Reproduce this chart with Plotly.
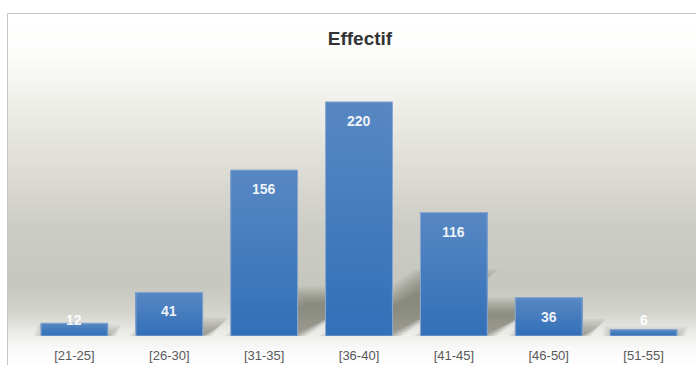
import plotly.graph_objects as go

# ---------------- data ----------------
categories = ["[21-25]", "[26-30]", "[31-35]", "[36-40]", "[41-45]", "[46-50]", "[51-55]"]
effectif = [12, 41, 156, 220, 116, 36, 6]
title_text = "Effectif"

# ---------------- geometry ----------------
W, H = 696, 365
ML, MR, MT, MB = 27, 5, 60, 29
PW = W - ML - MR
PH = H - MT - MB
YMAX = 259.4
px_per_unit = PH / YMAX
n = len(categories)
px_per_cat = PW / n
bar_w = 0.705


def py(ypx):
    return (H - MB - ypx) / PH


def px(xpx):
    return (xpx - ML) / PW


def hex2rgb(h):
    h = h.lstrip("#")
    return tuple(int(h[i:i + 2], 16) for i in (0, 2, 4))


def mix(c0, c1, t):
    a, b = hex2rgb(c0), hex2rgb(c1)
    return "rgb(%d,%d,%d)" % tuple(round(a[i] + (b[i] - a[i]) * t) for i in range(3))


def lerp_color(stops, y):
    for (y0, c0), (y1, c1) in zip(stops, stops[1:]):
        if y0 <= y <= y1:
            t = (y - y0) / (y1 - y0) if y1 > y0 else 0
            return mix(c0, c1, t)
    return stops[-1][1]


# background gradient (styling only)
bg_stops = [(13, "#ffffff"), (50, "#fdfdfc"), (100, "#f0f0eb"), (170, "#dddcd5"),
            (230, "#cbccc4"), (285, "#c6c7bf"), (312, "#d2d3cb"), (334, "#ededea"),
            (350, "#fafafa"), (366, "#ffffff")]

shapes = []
step = 3
y = 14
while y < 366:
    shapes.append(dict(type="rect", xref="paper", yref="paper",
                       x0=px(8), x1=px(705), y0=py(y + step + 0.5), y1=py(y),
                       fillcolor=lerp_color(bg_stops, y + step / 2), line=dict(width=0),
                       layer="below"))
    y += step

# frame
shapes.append(dict(type="rect", xref="paper", yref="paper",
                   x0=px(7.5), x1=px(710), y0=py(380), y1=py(13.5),
                   line=dict(color="#c6c6c6", width=1), fillcolor="rgba(0,0,0,0)",
                   layer="below"))

# soft perspective shadows derived from bar values
for i, v in enumerate(effectif):
    hs = 0.25 * v
    dx = (hs * px_per_unit / 0.6) / px_per_cat
    for e in range(-8, 9, 2):
        ex = e / px_per_cat
        ey = e / px_per_unit
        x0 = i - bar_w / 2 - ex
        x1 = i + bar_w / 2 + ex
        top = max(hs + ey, 0.1)
        path = "M %f,%f L %f,%f L %f,%f L %f,%f Z" % (
            x0, -1, x1, -1, x1 + dx, top, x0 + dx, top)
        shapes.append(dict(type="path", xref="x", yref="y", path=path,
                           fillcolor="rgba(45,45,40,0.058)", line=dict(width=0),
                           layer="below"))

# value labels
annotations = []
for i, v in enumerate(effectif):
    if v * px_per_unit - 19 >= 16:
        yv, ys = v, -19
    else:
        yv, ys = 0, 16
    annotations.append(dict(x=i, y=yv, xref="x", yref="y", yshift=ys, text=str(v),
                            showarrow=False, yanchor="middle", xanchor="center",
                            font=dict(family="Liberation Sans", size=14,
                                      color="rgba(255,255,255,0.93)", weight="bold")))

fig = go.Figure()

# bars drawn as overlapping layers giving a vertical gradient (light top -> darker bottom)
TOP_C, BOT_C = "#5888c3", "#326fb8"
NSEG = 24
xs = list(range(n))
for k in range(NSEG):
    frac0 = k / NSEG
    fig.add_trace(go.Bar(
        x=xs, y=[v * (1 - frac0) for v in effectif], base=[v * frac0 for v in effectif],
        width=bar_w, marker=dict(color=mix(BOT_C, TOP_C, (k + 0.5) / NSEG), line=dict(width=0)),
        hoverinfo="skip", showlegend=False,
    ))
# outline
fig.add_trace(go.Bar(
    x=xs, y=effectif, width=bar_w,
    marker=dict(color="rgba(0,0,0,0)", line=dict(color="#8eaad0", width=1)),
    hoverinfo="skip", showlegend=False,
))

fig.update_layout(
    width=W, height=H,
    barmode="overlay",
    margin=dict(l=ML, r=MR, t=MT, b=MB, pad=0),
    paper_bgcolor="#ffffff",
    plot_bgcolor="rgba(0,0,0,0)",
    shapes=shapes,
    annotations=annotations,
    title=dict(text="<b>%s</b>" % title_text, x=360 / W, xref="container", xanchor="center",
               y=1 - 38 / H, yref="container", yanchor="middle",
               font=dict(family="Liberation Sans", size=19, color="#333333")),
    xaxis=dict(range=[-0.5, n - 0.5], tickvals=xs, ticktext=categories,
               showgrid=False, zeroline=False, showline=False, ticks="",
               ticklabelstandoff=10, automargin=False,
               tickfont=dict(family="Liberation Sans", size=13, color="#595959")),
    yaxis=dict(range=[0, YMAX], visible=False, showgrid=False, zeroline=False),
)

fig.write_html("out.html")
